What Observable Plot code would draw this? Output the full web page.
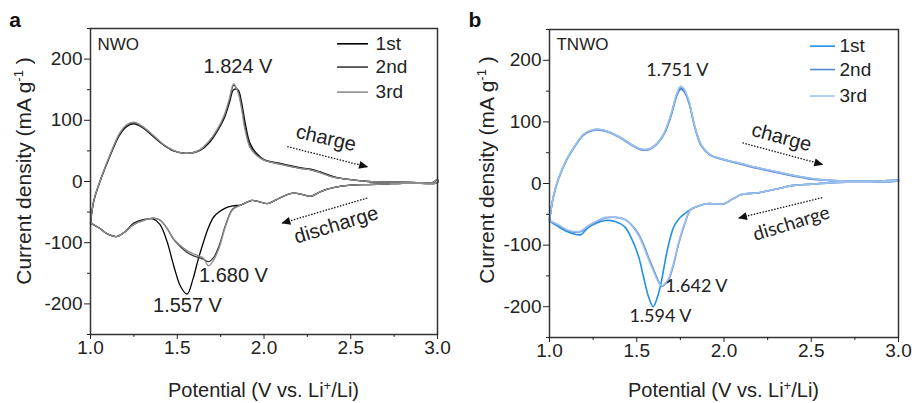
<!DOCTYPE html>
<html><head><meta charset="utf-8">
<script src="https://cdn.jsdelivr.net/npm/d3@7"></script>
<script src="https://cdn.jsdelivr.net/npm/@observablehq/plot@0.6"></script>
<style>
body{margin:0;background:#fff;}
#wrap{display:flex;width:917px;height:403px;overflow:hidden;}
</style></head><body><div id="wrap"></div>
<script>
const cycles = ["1st", "2nd", "3rd"];
const xMajor = [1.0, 1.5, 2.0, 2.5, 3.0];
const xMinor = [1.25, 1.75, 2.25, 2.75];
const yMajor = [-200, -100, 0, 100, 200];
const yMinor = [-250, -150, -50, 50, 150, 250];

// ---- Panel a (NWO) ----
const aUpV = [1.00,1.02,1.06,1.11,1.17,1.21,1.25,1.30,1.36,1.42,1.48,1.55,1.62,1.68,1.73,1.77,1.80,1.825,1.85,1.87,1.89,1.92,1.96,2.00,2.10,2.20,2.27,2.32,2.40,2.50,2.60,2.70,2.80,2.90,2.97,3.00];
const aUp1 = [-68,-31,4,40,77,90,94,88,74,60,50,46,49,62,82,103,128,150,150,130,98,62,45,36,29,23,20,16,8,3,0,-1,-1,-2,-2,3];
const aUp2 = [-68,-30,5,41,79,92,96,89,75,60,50,46,50,64,84,106,132,157,148,124,90,58,43,35,28,22,19,15,7,3,0,-1,-1,-2,-2,3];
const aUp3 = [-68,-30,5,42,80,93,97,90,76,61,51,46,50,65,85,108,135,160,146,120,85,55,42,35,28,22,19,15,7,3,0,-1,-1,-2,-2,3];
const aDnV = [3.00,2.90,2.80,2.70,2.60,2.50,2.40,2.33,2.27,2.23,2.17,2.12,2.07,2.02,1.97,1.93,1.87,1.82,1.78,1.74,1.71,1.68,1.65,1.62,1.59,1.557,1.52,1.48,1.44,1.40,1.36,1.31,1.25,1.20,1.15,1.10,1.05,1.00];
const aDn1 = [-2,-3,-3,-4,-5,-6,-10,-16,-24,-22,-19,-23,-30,-36,-33,-31,-38,-40,-43,-50,-58,-75,-100,-128,-160,-184,-172,-138,-97,-70,-61,-62,-68,-82,-90,-86,-76,-68];
const aDn2 = [-2,-3,-3,-4,-5,-6,-10,-16,-24,-22,-19,-23,-30,-36,-33,-31,-38,-45,-70,-106,-124,-131,-127,-124,-121,-116,-107,-95,-76,-63,-60,-63,-70,-82,-90,-86,-76,-68];
const aDn3 = [-2,-3,-3,-4,-5,-6,-10,-16,-24,-22,-19,-23,-30,-36,-33,-31,-38,-46,-72,-110,-128,-138,-125,-121,-118,-113,-105,-94,-76,-63,-60,-63,-70,-82,-90,-86,-76,-68];
const aPeakLabels = ["1.824 V", "1.680 V", "1.557 V"];

// ---- Panel b (TNWO) ----
const bUpV = [1.00,1.02,1.05,1.10,1.15,1.20,1.27,1.33,1.40,1.46,1.52,1.57,1.62,1.66,1.70,1.73,1.751,1.77,1.80,1.83,1.87,1.92,2.00,2.10,2.20,2.30,2.40,2.50,2.60,2.70,2.80,2.90,3.00];
const bUp1 = [-61,-25,6,39,62,80,88,85,76,65,56,56,66,83,115,145,155,152,132,95,62,47,39,32,25,19,13,8,5,4,4,4,5];
const bUp2 = [-60,-24,7,40,63,80,87,84,75,64,55,55,65,82,113,143,153,150,130,94,61,46,38,31,24,18,12,7,5,4,4,4,5];
const bUp3 = [-60,-24,7,40,63,81,88,85,76,65,56,56,66,84,116,147,158,154,133,96,63,47,39,32,25,19,13,8,5,4,4,4,5];
const bDnV = [3.00,2.90,2.80,2.70,2.60,2.50,2.40,2.30,2.20,2.10,2.05,2.00,1.95,1.90,1.85,1.81,1.77,1.74,1.71,1.68,1.66,1.642,1.62,1.594,1.57,1.54,1.51,1.47,1.43,1.38,1.32,1.27,1.22,1.18,1.14,1.10,1.05,1.00];
const bDn1 = [4,3,2,2,1,-1,-3,-9,-15,-18,-25,-33,-33,-33,-37,-42,-50,-58,-72,-102,-130,-158,-183,-200,-186,-153,-118,-89,-70,-62,-60,-64,-72,-83,-82,-78,-70,-61];
const bDn2 = [4,3,2,2,1,-1,-3,-9,-15,-18,-25,-33,-33,-33,-37,-42,-70,-98,-133,-158,-164,-167,-156,-138,-122,-100,-82,-67,-58,-55,-56,-62,-70,-78,-79,-76,-68,-60];
const bDn3 = [4,3,2,2,1,-1,-3,-9,-15,-18,-25,-33,-33,-33,-37,-42,-68,-96,-130,-156,-163,-166,-158,-141,-125,-103,-84,-68,-58,-55,-55,-61,-69,-77,-78,-75,-67,-60];
const bPeakLabels = ["1.751 V", "1.642 V", "1.594 V"];

const FONT = '"Liberation Sans", Arial, sans-serif';

function loopRows(upV, dnV, ups, dns) {
  const rows = [];
  cycles.forEach((c, i) => {
    upV.forEach((v, j) => rows.push({cycle: c, V: v, I: ups[i][j]}));
    dnV.forEach((v, j) => rows.push({cycle: c, V: v, I: dns[i][j]}));
  });
  return rows;
}

function panel(cfg) {
  const legend = cycles.map((c, i) => ({cycle: c, y: cfg.legY[i]}));
  const svg = Plot.plot({
    width: cfg.width, height: 403,
    marginLeft: cfg.ml, marginRight: cfg.mr, marginTop: cfg.mt, marginBottom: cfg.mb,
    x: {domain: [1, 3]},
    y: {domain: [-250, 250]},
    color: {domain: cycles, range: cfg.colors},
    style: {fontFamily: FONT, fontSize: "19px", color: "#222", background: "white", overflow: "visible"},
    marks: [
      Plot.line(cfg.rows, {x: "V", y: "I", z: "cycle", stroke: "cycle", strokeWidth: cfg.sw, curve: "catmull-rom"}),
      Plot.frame({stroke: "#333", strokeWidth: 1.5}),
      Plot.axisX({ticks: xMajor, tickFormat: d => d.toFixed(1), tickSize: 5, tickPadding: 1, label: null}),
      Plot.axisX({ticks: xMinor, tickFormat: () => "", tickSize: 3, label: null}),
      Plot.axisY({ticks: yMajor, tickFormat: d => String(d), tickSize: 6, tickPadding: 2, label: null}),
      Plot.axisY({ticks: yMinor, tickFormat: () => "", tickSize: 3, label: null}),
      Plot.ruleY(legend, {y: "y", x1: cfg.legX1, x2: cfg.legX2, stroke: "cycle", strokeWidth: 1.6}),
      Plot.text(legend, {x: cfg.legTX, y: "y", text: "cycle", textAnchor: "start", fill: "#222"}),
      Plot.text([cfg.name], {x: 1.04, y: cfg.nameY, text: d => d, textAnchor: "start", fontSize: 17, fill: "#222"}),
      Plot.text(cfg.peaks, {x: "x", y: "y", text: "label", fontFamily: cfg.peakFont, fontSize: cfg.peakSize, fill: "#222"}),
      Plot.text([cfg.charge], {x: "x", y: "y", text: d => "charge", rotate: "r", fontSize: 20, fill: "#222"}),
      Plot.text([cfg.discharge], {x: "x", y: "y", text: d => "discharge", rotate: "r", fontSize: cfg.disSize, fontFamily: cfg.disFont, fill: "#222"}),
      Plot.link(cfg.arrows, {x1: "x1", y1: "y1", x2: "x2", y2: "y2", stroke: "#111", strokeWidth: 1.3, strokeDasharray: "1.5,1.5"})
    ]
  });
  const s = d3.select(svg);
  const id = "ah" + cfg.letter;
  s.append("defs").append("marker")
    .attr("id", id).attr("viewBox", "0 0 10 10").attr("refX", 9).attr("refY", 5)
    .attr("markerWidth", 11).attr("markerHeight", 9).attr("markerUnits", "userSpaceOnUse").attr("orient", "auto")
    .append("path").attr("d", "M0,0.5 L10,5 L0,9.5 Z").attr("fill", "#111");
  s.selectAll('g[aria-label="link"] path').attr("marker-end", `url(#${id})`);
  // panel letter
  s.append("text").attr("x", cfg.letX).attr("y", 27).attr("font-family", FONT).attr("font-weight", "bold")
    .attr("font-size", 21).attr("fill", "#111").text(cfg.letter);
  // y title
  const yt = s.append("text").attr("transform", `translate(${cfg.ytX},${cfg.ytY}) rotate(-90)`)
    .attr("text-anchor", "middle").attr("font-family", FONT).attr("font-size", 21).attr("fill", "#222");
  yt.append("tspan").text("Current density (mA g");
  yt.append("tspan").attr("dy", -8).attr("font-size", 13).text("-1");
  yt.append("tspan").attr("dy", 8).text(" )");
  // x title
  const xt = s.append("text").attr("x", (cfg.ml + cfg.width - cfg.mr) / 2).attr("y", 397)
    .attr("text-anchor", "middle").attr("font-family", FONT).attr("font-size", 20).attr("fill", "#222");
  xt.append("tspan").text("Potential (V vs. Li");
  xt.append("tspan").attr("dy", -7).attr("font-size", 13).text("+");
  xt.append("tspan").attr("dy", 7).text("/Li)");
  return svg;
}

const wrap = document.getElementById("wrap");
wrap.appendChild(panel({
  letter: "a", width: 458, ml: 90, mr: 21, mt: 28, mb: 69,
  rows: loopRows(aUpV, aDnV, [aUp1, aUp2, aUp3], [aDn1, aDn2, aDn3]),
  colors: ["#000000", "#3a3a3a", "#8e8e8e"], sw: 1.3,
  legY: [225, 187, 146], legX1: 2.424, legX2: 2.602, legTX: 2.643,
  name: "NWO", nameY: 224,
  peaks: [
    {x: 1.85, y: 188, label: aPeakLabels[0]},
    {x: 1.824, y: -154, label: aPeakLabels[1]},
    {x: 1.559, y: -202, label: aPeakLabels[2]}
  ],
  peakFont: FONT, peakSize: 20,
  charge: {x: 2.358, y: 71, r: 13},
  discharge: {x: 2.416, y: -71, r: -17},
  disFont: FONT, disSize: 20,
  arrows: [
    {x1: 2.134, y1: 57, x2: 2.595, y2: 24},
    {x1: 2.595, y1: -27, x2: 2.105, y2: -68}
  ],
  letX: 15, ytX: 31, ytY: 171
}));
wrap.appendChild(panel({
  letter: "b", width: 459, ml: 91, mr: 19, mt: 29, mb: 66,
  rows: loopRows(bUpV, bDnV, [bUp1, bUp2, bUp3], [bDn1, bDn2, bDn3]),
  colors: ["#2490e6", "#5586d0", "#9fc0ec"], sw: 1.6,
  legY: [223, 185, 142], legX1: 2.496, legX2: 2.639, legTX: 2.662,
  name: "TNWO", nameY: 226,
  peaks: [
    {x: 1.733, y: 184, label: bPeakLabels[0]},
    {x: 1.842, y: -166, label: bPeakLabels[1]},
    {x: 1.636, y: -216, label: bPeakLabels[2]}
  ],
  peakFont: "Lato, Carlito, sans-serif", peakSize: 18,
  charge: {x: 2.33, y: 75, r: 15},
  discharge: {x: 2.386, y: -65, r: -17},
  disFont: "Lato, sans-serif", disSize: 19,
  arrows: [
    {x1: 2.106, y1: 66, x2: 2.564, y2: 31},
    {x1: 2.563, y1: -23, x2: 2.085, y2: -56}
  ],
  letX: 17, ytX: 36, ytY: 170
}));
</script>
</body></html>
